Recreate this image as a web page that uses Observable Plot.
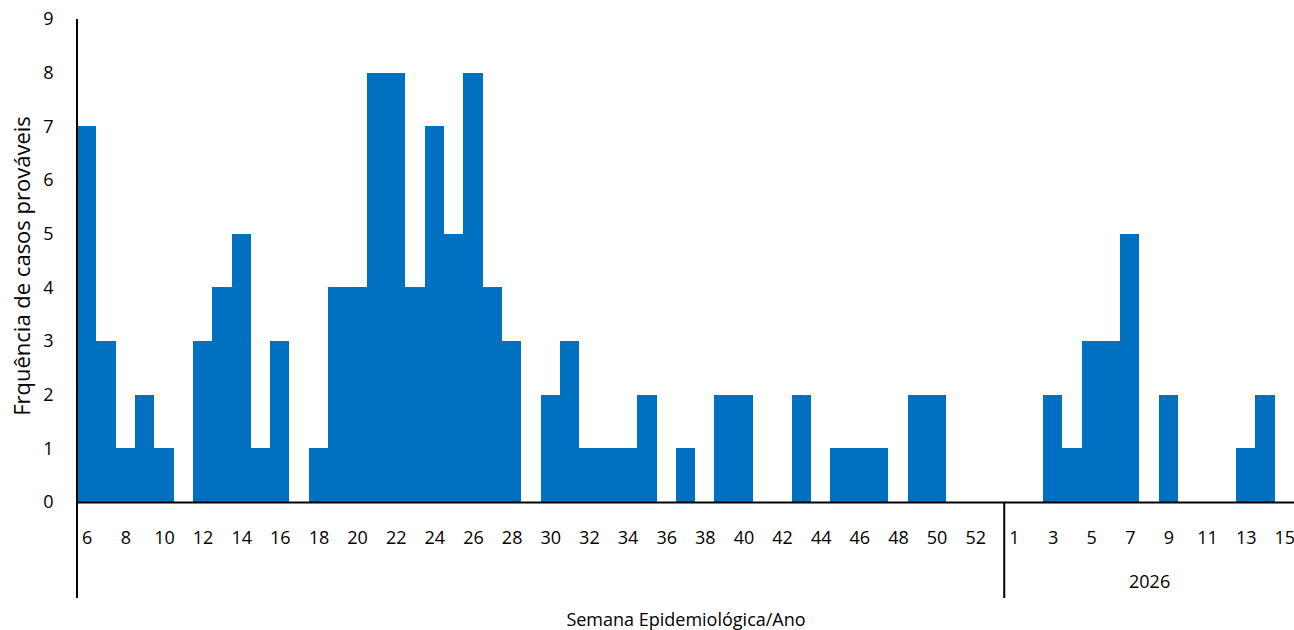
<!DOCTYPE html>
<html>
<head>
<meta charset="utf-8">
<script src="https://cdn.jsdelivr.net/npm/d3@7"></script>
<script src="https://cdn.jsdelivr.net/npm/@observablehq/plot@0.6"></script>
<style>
  html, body { margin: 0; padding: 0; background: #fff; overflow: hidden; }
  #chart svg { display: block; }
</style>
</head>
<body>
<div id="chart"></div>
<script>
// Epidemiological weeks and probable cases
const weeks2025 = d3.range(6, 54);   // weeks 6..53
const cases2025 = [7, 3, 1, 2, 1, 0, 3, 4, 5, 1, 3, 0, 1, 4, 4, 8, 8, 4, 7, 5, 8, 4, 3, 0,
                   2, 3, 1, 1, 1, 2, 0, 1, 0, 2, 2, 0, 0, 2, 0, 1, 1, 1, 0, 2, 2, 0, 0, 0];
const weeks2026 = d3.range(1, 16);   // weeks 1..15
const cases2026 = [0, 0, 2, 1, 3, 3, 5, 0, 2, 0, 0, 0, 1, 2, 0];
const yearLabels = ["", "2026"];     // group labels (2025 group label blank in the source)
const yTicks = [0, 1, 2, 3, 4, 5, 6, 7, 8, 9];
const xTitle = "Semana Epidemiológica/Ano";
const yTitle = "Frquência de casos prováveis";

const data = [
  ...weeks2025.map((w, i) => ({key: `2025-${w}`, week: w, year: 2025, value: cases2025[i]})),
  ...weeks2026.map((w, i) => ({key: `2026-${w}`, week: w, year: 2026, value: cases2026[i]}))
];
const keys = data.map(d => d.key);
const labelOf = new Map(data.map(d => [d.key, String(d.week)]));
const tickKeys = keys.filter((k, i) => i % 2 === 0);
const groups = [
  {label: yearLabels[0], keys: keys.filter(k => k.startsWith("2025"))},
  {label: yearLabels[1], keys: keys.filter(k => k.startsWith("2026"))}
];
const groupText = groups.filter(g => g.label).map(g => ({label: g.label, key: g.keys[Math.floor(g.keys.length / 2)]}));

const font = "'Open Sans', sans-serif";
const chart = Plot.plot({
  width: 1294,
  height: 630,
  marginLeft: 77,
  marginRight: 0,
  marginTop: 19,
  marginBottom: 128,
  style: {fontFamily: font, fontSize: "18px", color: "#000", background: "#fff"},
  x: {type: "band", domain: keys, padding: 0, round: false, axis: null},
  y: {domain: [0, 9], axis: null},
  marks: [
    Plot.barY(data, {x: "key", y: "value", fill: "#0070C0", inset: 0, shapeRendering: "crispEdges"}),
    Plot.axisY(yTicks, {tickSize: 0, tickPadding: 24, label: null, fontSize: 18, tickFormat: d => String(d)}),
    Plot.axisX(tickKeys, {tickSize: 0, tickPadding: 29, tickFormat: k => labelOf.get(k), label: null, fontSize: 18}),
    Plot.ruleY([0], {stroke: "#000", strokeWidth: 2}),
    Plot.text(groupText, {x: "key", text: "label", frameAnchor: "bottom", dy: 85, fontSize: 18}),
    Plot.text([xTitle], {frameAnchor: "bottom", dy: 123, fontSize: 18}),
    Plot.text([yTitle], {frameAnchor: "left", textAnchor: "middle", rotate: -90, dx: -55, dy: 5, fontSize: 22})
  ]
});

// Excel-style axis lines: y axis line extending through the category label area, and group separators
const xs = chart.scale("x");
const ys = chart.scale("y");
const svg = d3.select(chart);
const yTop = ys.apply(9);
const yBottom = ys.apply(0) + 96;
const lineX = [xs.apply(keys[0])];
groups.slice(1).forEach(g => lineX.push(xs.apply(g.keys[0])));
lineX.forEach((x, i) => {
  svg.append("line")
    .attr("x1", x).attr("x2", x)
    .attr("y1", i === 0 ? yTop : ys.apply(0))
    .attr("y2", yBottom)
    .attr("stroke", "#000").attr("stroke-width", 2);
});

document.getElementById("chart").append(chart);
</script>
</body>
</html>
